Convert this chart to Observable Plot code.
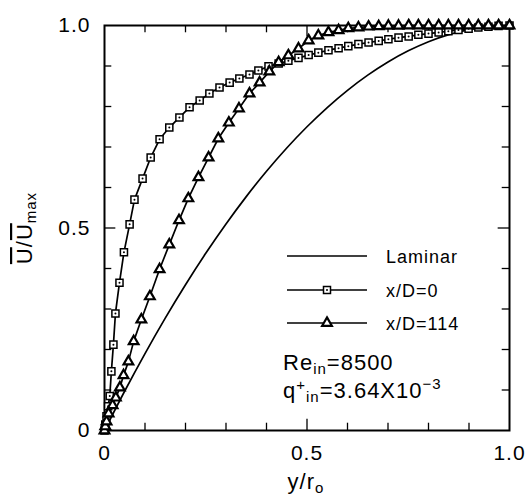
<!DOCTYPE html>
<html>
<head>
<meta charset="utf-8">
<script src="https://cdn.jsdelivr.net/npm/d3@7"></script>
<script src="https://cdn.jsdelivr.net/npm/@observablehq/plot@0.6"></script>
<style>
  html, body { margin: 0; padding: 0; background: white; }
</style>
</head>
<body>
<div id="chart"></div>
<script>
// Laminar profile
const lamX = [0, 0.05, 0.1, 0.15, 0.2, 0.25, 0.3, 0.35, 0.4, 0.45, 0.5, 0.55, 0.6, 0.65, 0.7, 0.75, 0.8, 0.85, 0.9, 0.95, 1.0];
const lamY = [0, 0.0975, 0.19, 0.2775, 0.36, 0.4375, 0.51, 0.5775, 0.64, 0.6975, 0.75, 0.7975, 0.84, 0.8775, 0.91, 0.9375, 0.96, 0.9775, 0.99, 0.9975, 1.0];

// x/D = 0 (squares)
const sqX = [0, 0.002, 0.005, 0.009, 0.013, 0.017, 0.022, 0.027, 0.037, 0.048, 0.062, 0.074, 0.094, 0.114, 0.136, 0.160, 0.185, 0.210, 0.235, 0.259, 0.284, 0.309, 0.333, 0.358, 0.380, 0.405, 0.430, 0.454, 0.479, 0.504, 0.528, 0.553, 0.578, 0.602, 0.627, 0.652, 0.677, 0.701, 0.726, 0.751, 0.775, 0.800, 0.825, 0.849, 0.874, 0.899, 0.923, 0.948, 0.973, 1.0];
const sqY = [0, 0.015, 0.035, 0.06, 0.085, 0.146, 0.212, 0.289, 0.365, 0.44, 0.509, 0.57, 0.622, 0.674, 0.719, 0.748, 0.773, 0.798, 0.815, 0.832, 0.847, 0.859, 0.869, 0.879, 0.889, 0.899, 0.906, 0.913, 0.92, 0.927, 0.933, 0.939, 0.944, 0.949, 0.954, 0.958, 0.962, 0.966, 0.970, 0.973, 0.977, 0.980, 0.983, 0.986, 0.989, 0.992, 0.995, 0.997, 0.999, 1.0];

// x/D = 114 (triangles)
const trX = [0, 0.002, 0.005, 0.01, 0.02, 0.028, 0.038, 0.047, 0.059, 0.072, 0.091, 0.112, 0.136, 0.160, 0.184, 0.207, 0.232, 0.257, 0.281, 0.307, 0.332, 0.358, 0.383, 0.407, 0.430, 0.454, 0.479, 0.504, 0.528, 0.553, 0.578, 0.602, 0.627, 0.652, 0.677, 0.701, 0.726, 0.751, 0.775, 0.800, 0.825, 0.849, 0.874, 0.899, 0.923, 0.948, 0.973, 1.0];
const trY = [0, 0.01, 0.022, 0.042, 0.062, 0.081, 0.106, 0.136, 0.170, 0.220, 0.274, 0.331, 0.398, 0.459, 0.519, 0.573, 0.625, 0.674, 0.721, 0.760, 0.795, 0.832, 0.859, 0.886, 0.909, 0.926, 0.943, 0.963, 0.975, 0.983, 0.988, 0.993, 0.995, 0.997, 0.998, 0.999, 0.999, 1.0, 1.0, 1.0, 1.0, 1.0, 1.0, 1.0, 1.0, 1.0, 1.0, 1.0];

// ticks and labels
const minorTicks = [0.1, 0.2, 0.3, 0.4, 0.6, 0.7, 0.8, 0.9];
const majorTicks = [0.5];
const xTickLabels = [0, 0.5, 1.0];
const yTickLabels = [0, 0.5, 1.0];
const seriesNames = ["Laminar", "x/D=0", "x/D=114"];

const lam = lamX.map((x, i) => ({x, y: lamY[i]}));
const sq = sqX.map((x, i) => ({x, y: sqY[i]}));
const tr = trX.map((x, i) => ({x, y: trY[i]}));
const fmt = d => d === 0 ? "0" : d.toFixed(1);
const font = "Liberation Sans, Arial, sans-serif";
const tl = 0.018, TL = 0.028;

const chart = Plot.plot({
  width: 526, height: 498,
  marginTop: 25, marginRight: 17, marginBottom: 68, marginLeft: 104,
  x: {domain: [0, 1], axis: null},
  y: {domain: [0, 1], axis: null},
  style: {fontFamily: font, background: "white", color: "black", overflow: "visible"},
  marks: [
    // inward ticks, four sides
    Plot.ruleX(minorTicks, {x: d => d, y1: 0, y2: tl, stroke: "black", strokeWidth: 1.3}),
    Plot.ruleX(majorTicks, {x: d => d, y1: 0, y2: TL, stroke: "black", strokeWidth: 1.3}),
    Plot.ruleX(minorTicks, {x: d => d, y1: 1 - tl, y2: 1, stroke: "black", strokeWidth: 1.3}),
    Plot.ruleX(majorTicks, {x: d => d, y1: 1 - TL, y2: 1, stroke: "black", strokeWidth: 1.3}),
    Plot.ruleY(minorTicks, {y: d => d, x1: 0, x2: tl, stroke: "black", strokeWidth: 1.3}),
    Plot.ruleY(majorTicks, {y: d => d, x1: 0, x2: TL, stroke: "black", strokeWidth: 1.3}),
    Plot.ruleY(minorTicks, {y: d => d, x1: 1 - tl, x2: 1, stroke: "black", strokeWidth: 1.3}),
    Plot.ruleY(majorTicks, {y: d => d, x1: 1 - TL, x2: 1, stroke: "black", strokeWidth: 1.3}),
    Plot.frame({stroke: "black", strokeWidth: 2}),
    // tick labels
    Plot.text(xTickLabels, {x: d => d, frameAnchor: "bottom", dy: 15, lineAnchor: "top", text: fmt, fontSize: 21, fill: "black"}),
    Plot.text(yTickLabels, {y: d => d, frameAnchor: "left", dx: -14, textAnchor: "end", text: fmt, fontSize: 21, fill: "black"}),
    // laminar
    Plot.line(lam, {x: "x", y: "y", stroke: "black", strokeWidth: 1.7, curve: "monotone-x"}),
    // x/D=0
    Plot.line(sq, {x: "x", y: "y", stroke: "black", strokeWidth: 1.7}),
    Plot.dot(sq, {x: "x", y: "y", symbol: "square", r: 4, fill: "white", stroke: "black", strokeWidth: 1.5}),
    Plot.dot(sq, {x: "x", y: "y", r: 1, fill: "black", stroke: "none"}),
    // x/D=114
    Plot.line(tr, {x: "x", y: "y", stroke: "black", strokeWidth: 1.7}),
    Plot.dot(tr, {x: "x", y: "y", symbol: "triangle", r: 3.6, fill: "white", stroke: "black", strokeWidth: 2.2})
  ]
});
document.getElementById("chart").appendChild(chart);

const svg = d3.select(chart);
svg.style("letter-spacing", "1px");

// y axis title with overbars
const yt = svg.append("text")
  .attr("transform", "translate(32,228) rotate(-90)")
  .attr("text-anchor", "middle")
  .attr("font-family", font).attr("font-size", 22).attr("fill", "black");
yt.append("tspan").style("text-decoration", "overline").text("U");
yt.append("tspan").text("/");
yt.append("tspan").style("text-decoration", "overline").text("U");
yt.append("tspan").attr("font-size", 15).attr("dy", 4).text("max");

// x axis title
const xt = svg.append("text")
  .attr("x", 306).attr("y", 489)
  .attr("text-anchor", "middle")
  .attr("font-family", font).attr("font-size", 22).attr("fill", "black");
xt.append("tspan").text("y/r");
xt.append("tspan").attr("font-size", 15).attr("dy", 4).text("o");

// legend
const rows = [256, 290, 323];
const lg = svg.append("g").attr("font-family", font).attr("font-size", 18).attr("fill", "black").attr("text-anchor", "start");
rows.forEach((yy, i) => {
  lg.append("line").attr("x1", 287).attr("x2", 367).attr("y1", yy).attr("y2", yy)
    .attr("stroke", "black").attr("stroke-width", 1.7);
  lg.append("text").attr("x", 386).attr("y", yy + 6.5).attr("text-anchor", "start").text(seriesNames[i]);
});
lg.append("rect").attr("x", 323.5).attr("y", rows[1] - 3.5).attr("width", 7).attr("height", 7)
  .attr("fill", "white").attr("stroke", "black").attr("stroke-width", 1.5);
lg.append("circle").attr("cx", 327).attr("cy", rows[1]).attr("r", 1).attr("fill", "black");
const triSym = d3.symbol(d3.symbolTriangle, Math.PI * 3.6 * 3.6);
lg.append("path").attr("d", triSym()).attr("transform", `translate(327,${rows[2]})`)
  .attr("fill", "white").attr("stroke", "black").attr("stroke-width", 2.2);

// annotation
const an = svg.append("g").attr("font-family", font).attr("font-size", 22).attr("fill", "black").attr("text-anchor", "start");
const t1 = an.append("text").attr("x", 283).attr("y", 370).attr("text-anchor", "start");
t1.append("tspan").text("Re");
t1.append("tspan").attr("font-size", 15).attr("dy", 4).text("in");
t1.append("tspan").attr("dy", -4).text("=8500");
const t2 = an.append("text").attr("x", 283).attr("y", 398).attr("text-anchor", "start");
t2.append("tspan").text("q");
t2.append("tspan").attr("font-size", 15).attr("dy", -8).text("+");
t2.append("tspan").attr("font-size", 15).attr("dy", 12).text("in");
t2.append("tspan").attr("dy", -4).text("=3.64X10");
t2.append("tspan").attr("font-size", 15).attr("dy", -9).text("−3");
</script>
</body>
</html>
